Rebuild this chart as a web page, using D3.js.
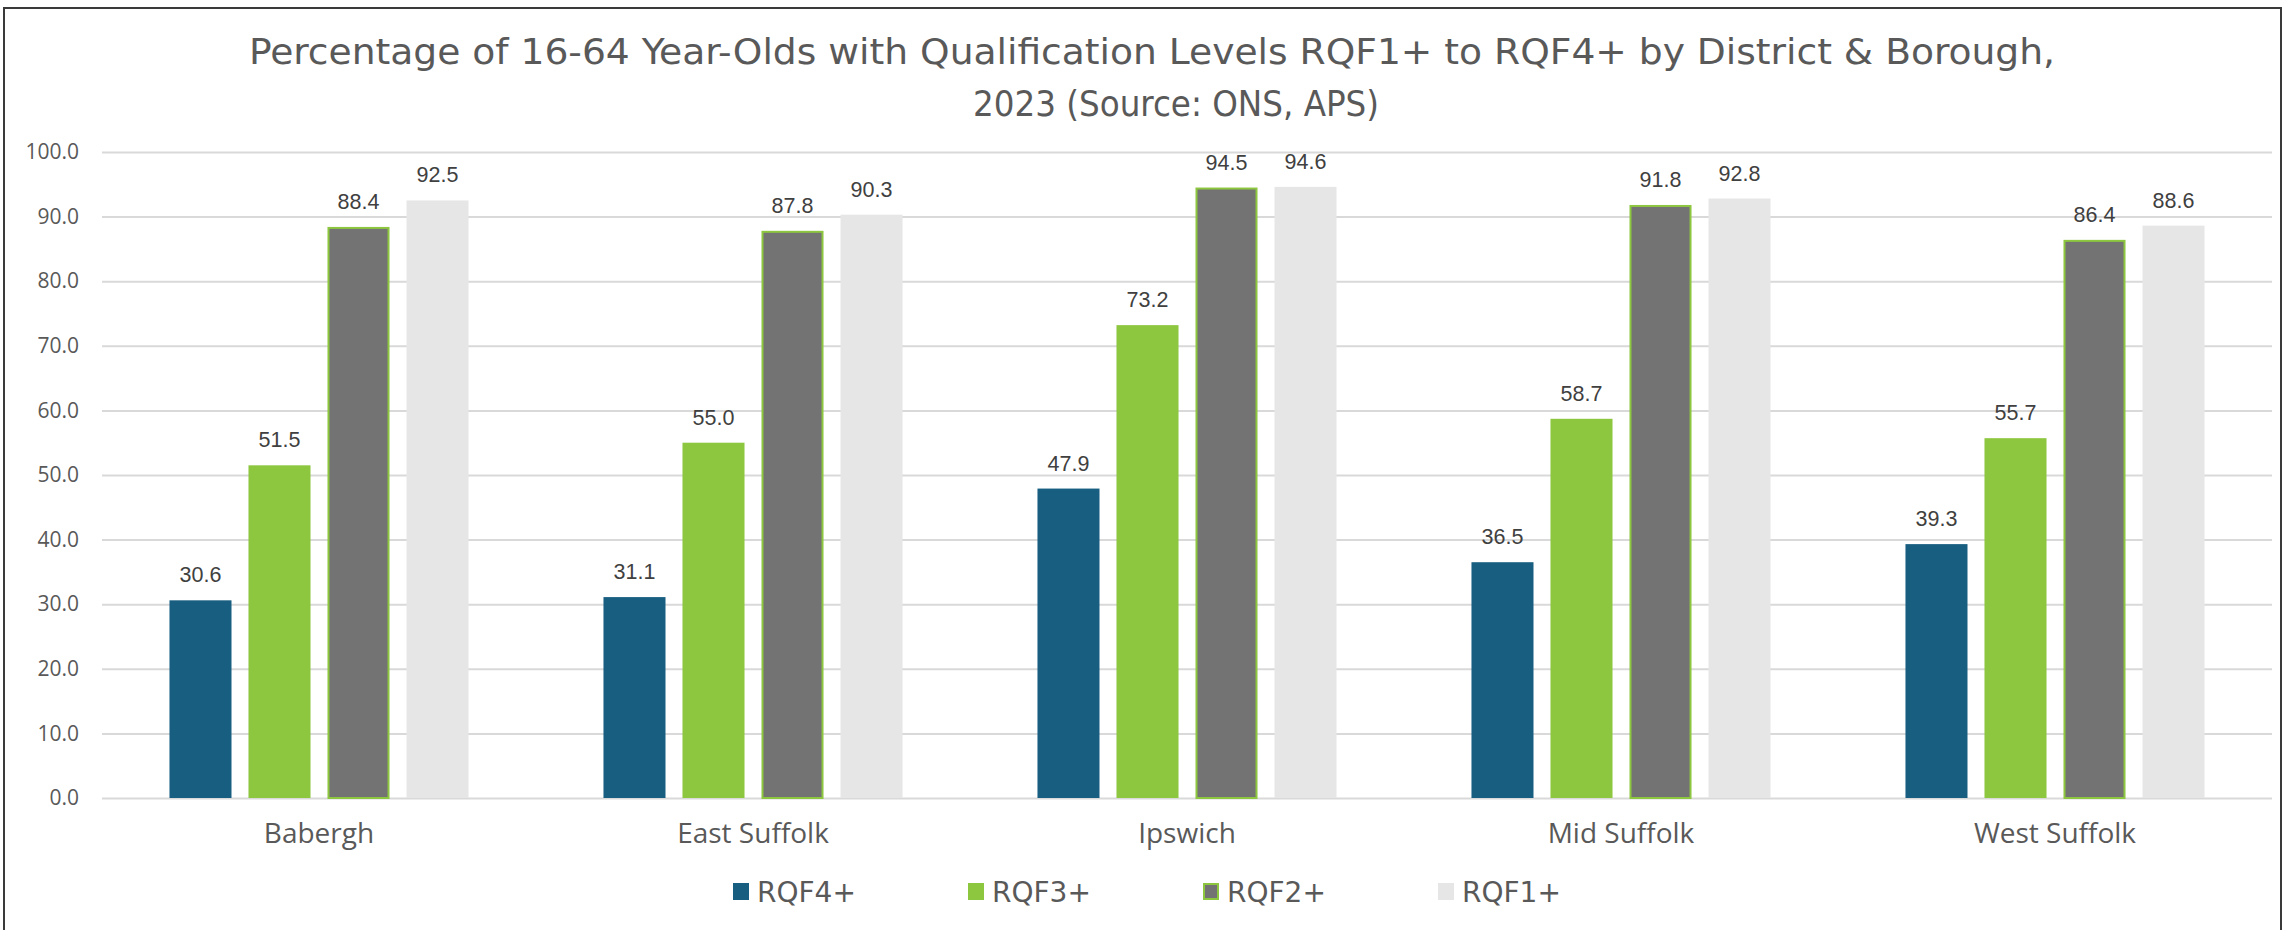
<!DOCTYPE html>
<html>
<head>
<meta charset="utf-8">
<script src="https://cdn.jsdelivr.net/npm/d3@7"></script>
<style>
  body { margin: 0; background: #fff; }
  svg { display: block; }
</style>
</head>
<body>
<div id="chart"></div>
<script>
// data
const districts = ["Babergh", "East Suffolk", "Ipswich", "Mid Suffolk", "West Suffolk"];
const seriesNames = ["RQF4+", "RQF3+", "RQF2+", "RQF1+"];
const rqf4 = [30.6, 31.1, 47.9, 36.5, 39.3];
const rqf3 = [51.5, 55.0, 73.2, 58.7, 55.7];
const rqf2 = [88.4, 87.8, 94.5, 91.8, 86.4];
const rqf1 = [92.5, 90.3, 94.6, 92.8, 88.6];
const yTicks = [0, 10, 20, 30, 40, 50, 60, 70, 80, 90, 100];
const titleLines = [
  "Percentage of 16-64 Year-Olds with Qualification Levels RQF1+ to RQF4+ by District & Borough,",
  "2023 (Source: ONS, APS)"
];

const seriesValues = [rqf4, rqf3, rqf2, rqf1];
const fills   = ["#175e81", "#8dc63f", "#737373", "#e6e6e6"];
const strokes = ["none", "none", "#8dc63f", "none"];

const W = 2284, H = 930;
const plotLeft = 102, plotRight = 2272, plotTop = 152, plotBottom = 798;

const svg = d3.select("#chart").append("svg")
    .attr("width", W)
    .attr("height", H);

// outer frame
svg.append("rect")
    .attr("x", 4).attr("y", 8)
    .attr("width", 2277).attr("height", 930)
    .attr("fill", "#fff")
    .attr("stroke", "#3a3a3a")
    .attr("stroke-width", 2);

// title (two lines, squeezed to the reference widths)
const titleG = svg.append("g")
    .attr("font-family", "'DejaVu Sans Condensed', 'DejaVu Sans', sans-serif")
    .attr("font-size", 36)
    .attr("fill", "#595959")
    .attr("text-anchor", "middle");
titleG.append("text").attr("x", 1152).attr("y", 64)
    .attr("textLength", 1806).attr("lengthAdjust", "spacingAndGlyphs")
    .text(titleLines[0]);
titleG.append("text").attr("x", 1176).attr("y", 116)
    .attr("textLength", 406).attr("lengthAdjust", "spacingAndGlyphs")
    .text(titleLines[1]);

// scales
const x0 = d3.scaleBand().domain(districts).range([plotLeft, plotRight]);
const x1 = d3.scaleBand().domain(seriesNames)
    .range([0, x0.bandwidth()])
    .paddingInner(0.215)
    .paddingOuter(0.854);
const y = d3.scaleLinear().domain([0, 100]).range([plotBottom, plotTop]);

// y axis + gridlines
const yAxis = svg.append("g")
    .attr("transform", `translate(${plotLeft},0)`)
    .call(d3.axisLeft(y).tickValues(yTicks).tickFormat(d3.format(".1f"))
        .tickSize(-(plotRight - plotLeft)).tickPadding(23));
yAxis.select(".domain").remove();
yAxis.selectAll(".tick line").attr("stroke", "#d9d9d9").attr("stroke-width", 2);
yAxis.selectAll(".tick text")
    .attr("font-family", "'Open Sans', sans-serif")
    .attr("font-size", 21)
    .attr("fill", "#595959");

// x axis labels
const xAxis = svg.append("g")
    .attr("transform", `translate(0,${plotBottom})`)
    .call(d3.axisBottom(x0).tickSize(0).tickPadding(25));
xAxis.select(".domain").remove();
xAxis.selectAll(".tick text")
    .attr("font-family", "'Open Sans', sans-serif")
    .attr("font-size", 28)
    .attr("fill", "#595959");

// bars
const rows = [];
districts.forEach((d, i) => {
    seriesNames.forEach((s, j) => rows.push({ district: d, series: s, idx: j, value: seriesValues[j][i] }));
});

const barG = svg.append("g");
barG.selectAll("rect")
    .data(rows)
    .join("rect")
    .attr("x", d => x0(d.district) + x1(d.series) + (strokes[d.idx] === "none" ? 0 : 1))
    .attr("y", d => y(d.value) + (strokes[d.idx] === "none" ? 0 : 1))
    .attr("width", d => x1.bandwidth() - (strokes[d.idx] === "none" ? 0 : 2))
    .attr("height", d => y(0) - y(d.value) - (strokes[d.idx] === "none" ? 0 : 1))
    .attr("fill", d => fills[d.idx])
    .attr("stroke", d => strokes[d.idx])
    .attr("stroke-width", 2);

// value labels
barG.selectAll("text")
    .data(rows)
    .join("text")
    .attr("x", d => x0(d.district) + x1(d.series) + x1.bandwidth() / 2)
    .attr("y", d => y(d.value) - 18)
    .attr("text-anchor", "middle")
    .attr("font-family", "'Liberation Sans', Arial, sans-serif")
    .attr("font-size", 21.5)
    .attr("fill", "#404040")
    .text(d => d3.format(".1f")(d.value));

// legend
const legend = svg.append("g")
    .selectAll("g")
    .data(seriesNames)
    .join("g")
    .attr("transform", (d, i) => `translate(${733 + i * 235},0)`);
legend.append("rect")
    .attr("x", (d, i) => strokes[i] === "none" ? 0 : 1)
    .attr("y", (d, i) => strokes[i] === "none" ? 883 : 884)
    .attr("width", (d, i) => strokes[i] === "none" ? 16 : 14)
    .attr("height", (d, i) => strokes[i] === "none" ? 17 : 15)
    .attr("fill", (d, i) => fills[i])
    .attr("stroke", (d, i) => strokes[i])
    .attr("stroke-width", 2);
legend.append("text")
    .attr("x", 24)
    .attr("y", 902)
    .attr("font-family", "'DejaVu Sans', sans-serif")
    .attr("font-size", 28)
    .attr("fill", "#595959")
    .text(d => d);
</script>
</body>
</html>
